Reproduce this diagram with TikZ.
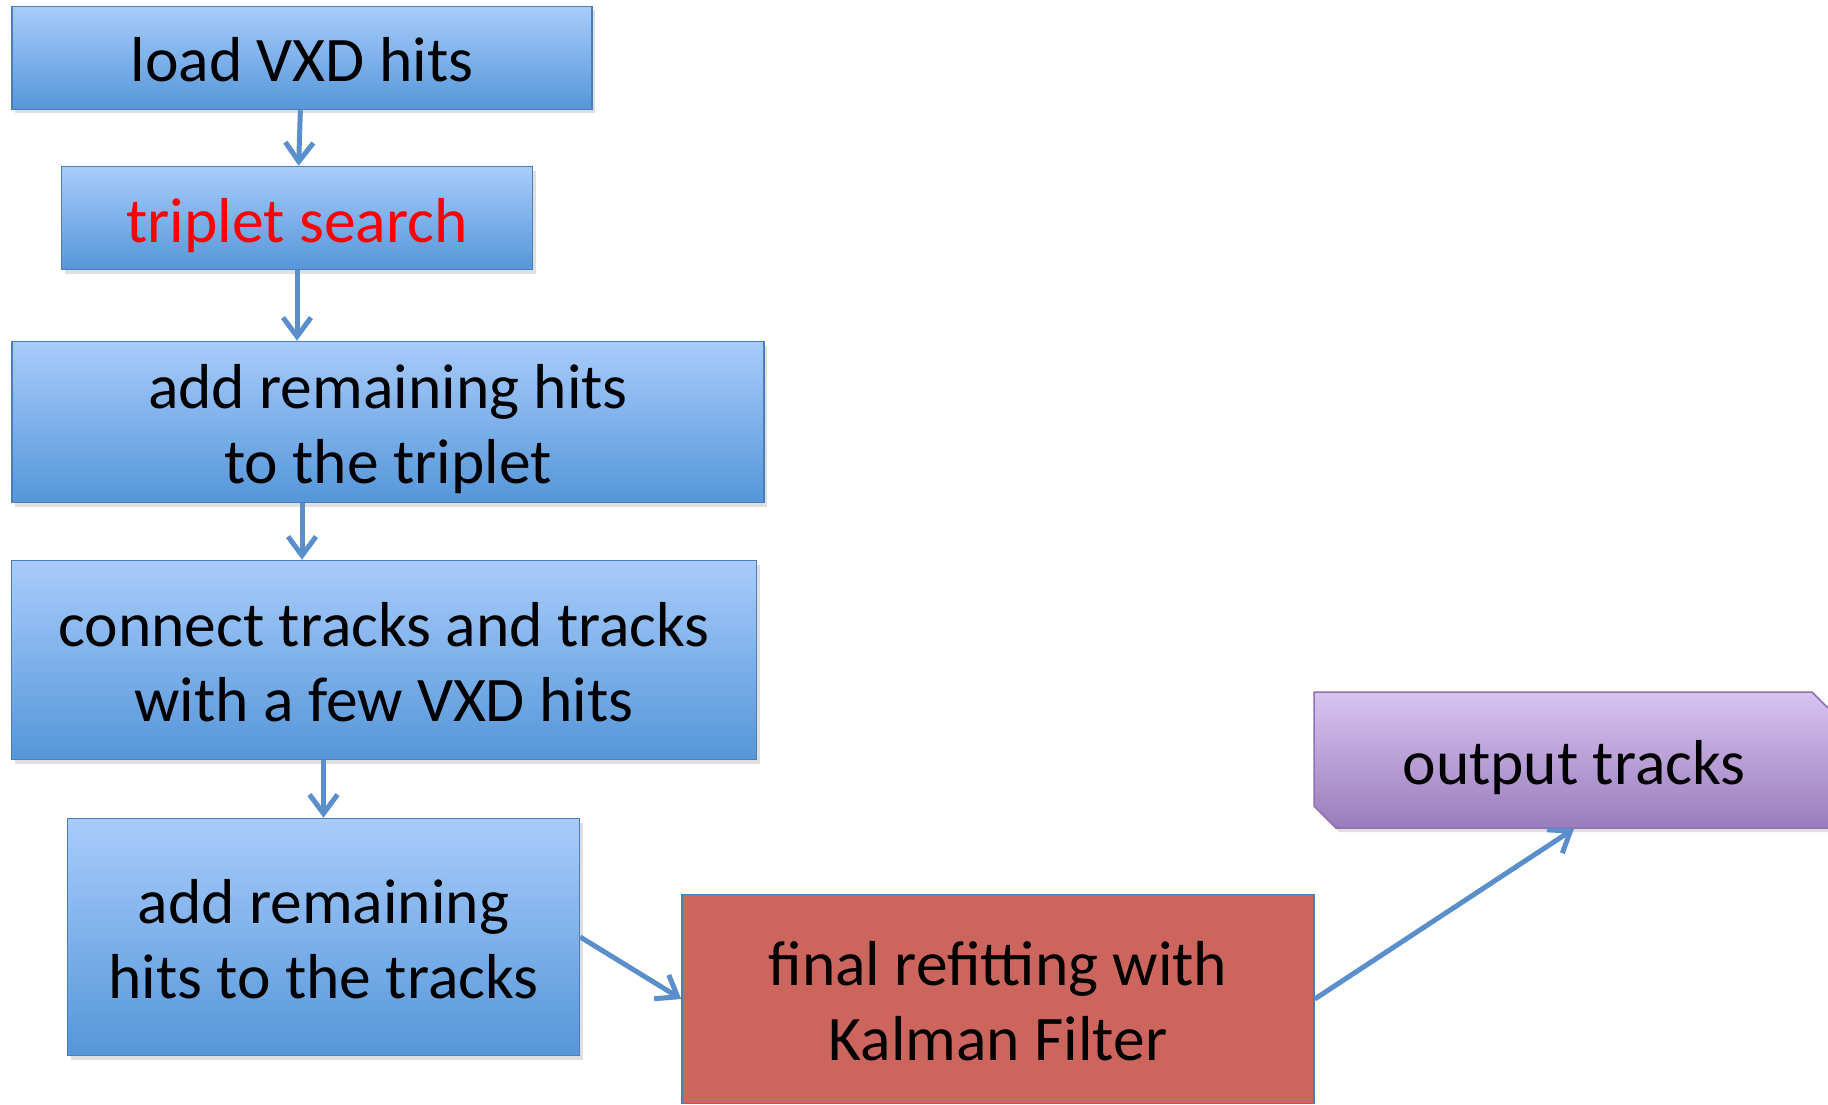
\documentclass[tikz,border=0pt]{standalone}
\usepackage{fontspec}
\setmainfont{Carlito}
\usetikzlibrary{arrows.meta,shadows,shapes.misc}

\definecolor{boxtop}{HTML}{A8CCFB}
\definecolor{boxbot}{HTML}{5596D9}
\definecolor{boxedge}{HTML}{4A7EBB}
\definecolor{flowblue}{HTML}{5B8FCB}
\definecolor{refitred}{HTML}{CC655E}
\definecolor{outtop}{HTML}{D7C4F0}
\definecolor{outbot}{HTML}{9A7CBC}
\definecolor{outedge}{HTML}{8E70B4}

\tikzset{%
    boxtext/.style={align=center, font=\fontsize{63.5}{74.6}\selectfont,
        inner sep=2pt, text height=62pt, text depth=14pt},
    twolines/.style={text height=136.6pt},
    stage/.style={rectangle, boxtext, draw=boxedge, line width=1.5pt,
        top color=boxtop, bottom color=boxbot,
        drop shadow={shadow xshift=3pt, shadow yshift=-4pt, opacity=.25}},
    refitbox/.style={rectangle, boxtext, draw=boxedge, line width=1.5pt,
        fill=refitred},
    outbox/.style={chamfered rectangle, boxtext,
        chamfered rectangle corners={north east, south west},
        chamfered rectangle xsep=11pt, chamfered rectangle ysep=11pt,
        draw=outedge, line width=1.5pt, top color=outtop, bottom color=outbot,
        drop shadow={shadow xshift=3pt, shadow yshift=-4pt, opacity=.25}},
    flow/.style={draw=flowblue, line width=5pt,
        -{Straight Barb[length=19pt, width=28pt]}}
}

\begin{document}
\begin{tikzpicture}[x=1pt, y=-1pt]
  \useasboundingbox (0,0) rectangle (1828,1105);

  \node (load) [stage, minimum width=580pt, minimum height=103pt] at (302,58) {load VXD hits};
  \node (triplet) [stage, minimum width=471pt, minimum height=103pt, text=red] at (297,218) {triplet search};
  \node (remain) [stage, twolines, minimum width=752pt, minimum height=161pt] at (388,422) {add remaining hits\\to the triplet};
  \node (connect) [stage, twolines, minimum width=745pt, minimum height=199pt] at (384,660) {connect tracks and tracks\\with a few VXD hits};
  \node (attach) [stage, twolines, minimum width=512pt, minimum height=237pt] at (323.5,937) {add remaining\\hits to the tracks};
  \node (refit) [refitbox, twolines, minimum width=632pt, minimum height=209pt] at (998,999) {final refitting with\\Kalman Filter};
  \node (output) [outbox, minimum width=520pt, minimum height=136pt] at (1574,760) {output tracks};

  \draw [flow] (load) -- (triplet);
  \draw [flow] (triplet.south) -- (triplet.south |- remain.north);
  \draw [flow] (remain.south -| load) -- (load |- connect.north);
  \draw [flow] (connect.south -| attach) -- (attach.north);
  \draw [flow] (attach.east) -- (refit.west);
  \draw [flow] (refit.east) -- (output.south);
\end{tikzpicture}
\end{document}
